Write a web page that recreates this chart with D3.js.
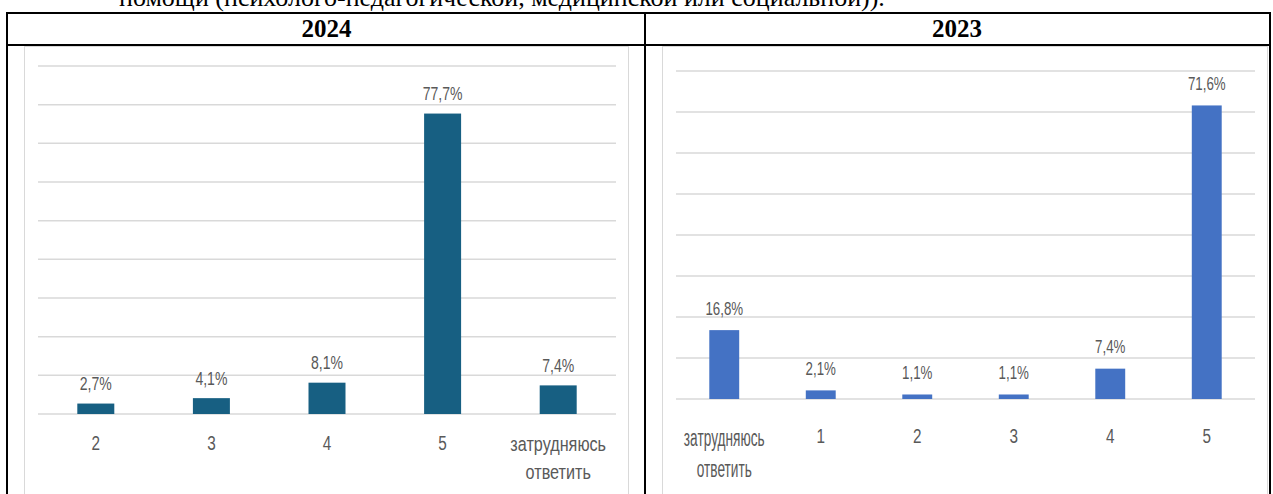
<!DOCTYPE html>
<html><head><meta charset="utf-8">
<script src="https://cdn.jsdelivr.net/npm/d3@7"></script>
<style>
body{margin:0;background:#fff;}
svg{display:block;}
</style></head>
<body>
<svg id="c" width="1273" height="494"></svg>
<script>
const introText = "помощи (психолого-педагогической, медицинской или социальной)).";
const headers = ["2024", "2023"];
const categories2024 = ["2", "3", "4", "5", "затрудняюсь ответить"];
const values2024 = [2.7, 4.1, 8.1, 77.7, 7.4];
const categories2023 = ["затрудняюсь ответить", "1", "2", "3", "4", "5"];
const values2023 = [16.8, 2.1, 1.1, 1.1, 7.4, 71.6];
const gridTicks2024 = [0, 10, 20, 30, 40, 50, 60, 70, 80, 90];
const gridTicks2023 = [0, 10, 20, 30, 40, 50, 60, 70, 80];

const svg = d3.select("#c");
const sans = "'Liberation Sans', Arial, sans-serif";
const serif = "'Liberation Serif', 'Times New Roman', serif";
const fmt = v => String(v).replace(".", ",") + "%";

function label(parent, txt, x, y, fs, sx, sy) {
  parent.append("text")
    .attr("transform", `translate(${x},${y}) scale(${sx},${sy})`)
    .attr("text-anchor", "middle").attr("font-family", sans)
    .attr("font-size", fs).attr("fill", "#595959").text(txt);
}

// intro text (cut at top)
svg.append("text").attr("x", 119).attr("y", 6)
  .attr("font-family", serif).attr("font-size", 26).attr("fill", "#000").text(introText);

// table
const tbl = svg.append("g").attr("stroke", "#000").attr("stroke-width", 2);
tbl.append("line").attr("x1", 6).attr("x2", 1271).attr("y1", 13).attr("y2", 13);
tbl.append("line").attr("x1", 6).attr("x2", 1271).attr("y1", 45).attr("y2", 45);
tbl.append("line").attr("x1", 7).attr("x2", 7).attr("y1", 12).attr("y2", 494);
tbl.append("line").attr("x1", 645).attr("x2", 645).attr("y1", 12).attr("y2", 494);
tbl.append("line").attr("x1", 1270).attr("x2", 1270).attr("y1", 12).attr("y2", 494);

[[326.5, headers[0]], [957, headers[1]]].forEach(([x, t]) => {
  svg.append("text").attr("x", x).attr("y", 37).attr("text-anchor", "middle")
    .attr("font-family", serif).attr("font-weight", "bold")
    .attr("font-size", 25).attr("fill", "#000").text(t);
});

function drawChart(cfg) {
  const g = svg.append("g");
  g.append("rect").attr("x", cfg.box[0] + 0.5).attr("y", 46.5)
    .attr("width", cfg.box[1] - cfg.box[0]).attr("height", 460)
    .attr("fill", "none").attr("stroke", "#d9d9d9");
  const x = d3.scaleBand().domain(cfg.cats).range([cfg.x0, cfg.x1]).paddingInner(cfg.pad).paddingOuter(cfg.pad / 2);
  const y = d3.scaleLinear().domain([0, d3.max(cfg.ticks)]).range([cfg.y0, cfg.yTop]);
  g.append("g").selectAll("line").data(cfg.ticks).join("line")
    .attr("x1", cfg.x0).attr("x2", cfg.x1)
    .attr("y1", d => y(d)).attr("y2", d => y(d))
    .attr("stroke", "#d9d9d9").attr("stroke-width", 1.5);
  g.append("g").selectAll("rect").data(cfg.vals).join("rect")
    .attr("x", (d, i) => x(cfg.cats[i])).attr("width", x.bandwidth())
    .attr("y", d => y(d)).attr("height", d => cfg.y0 - y(d))
    .attr("fill", cfg.color);
  const vl = g.append("g");
  cfg.vals.forEach((d, i) => {
    label(vl, fmt(d), x(cfg.cats[i]) + x.bandwidth() / 2, y(d) - cfg.labelGap, 18, cfg.vsx, 1.04);
  });
  const cl = g.append("g");
  cfg.cats.forEach(c => {
    const cx = x(c) + x.bandwidth() / 2;
    const parts = c.split(" ");
    if (parts.length === 1) {
      label(cl, c, cx, cfg.digitY, 18, 0.85, cfg.digitSy);
    } else {
      parts.forEach((p, i) => label(cl, p, cx, cfg.textY + i * cfg.lineH, 18, cfg.tsx, cfg.tsy));
    }
  });
}

drawChart({
  cats: categories2024, vals: values2024, ticks: gridTicks2024,
  box: [24, 628], x0: 38, x1: 616, y0: 414, yTop: 66,
  pad: 0.68, color: "#175f82", labelGap: 13.5, vsx: 0.78,
  digitY: 450, digitSy: 1.08, textY: 451, lineH: 28, tsx: 0.9, tsy: 1.15
});
drawChart({
  cats: categories2023, vals: values2023, ticks: gridTicks2023,
  box: [662, 1267], x0: 676, x1: 1255, y0: 399, yTop: 71,
  pad: 0.69, color: "#4472c4", labelGap: 15.5, vsx: 0.74,
  digitY: 443, digitSy: 1.16, textY: 446, lineH: 31, tsx: 0.76, tsy: 1.35
});
</script>
</body></html>
